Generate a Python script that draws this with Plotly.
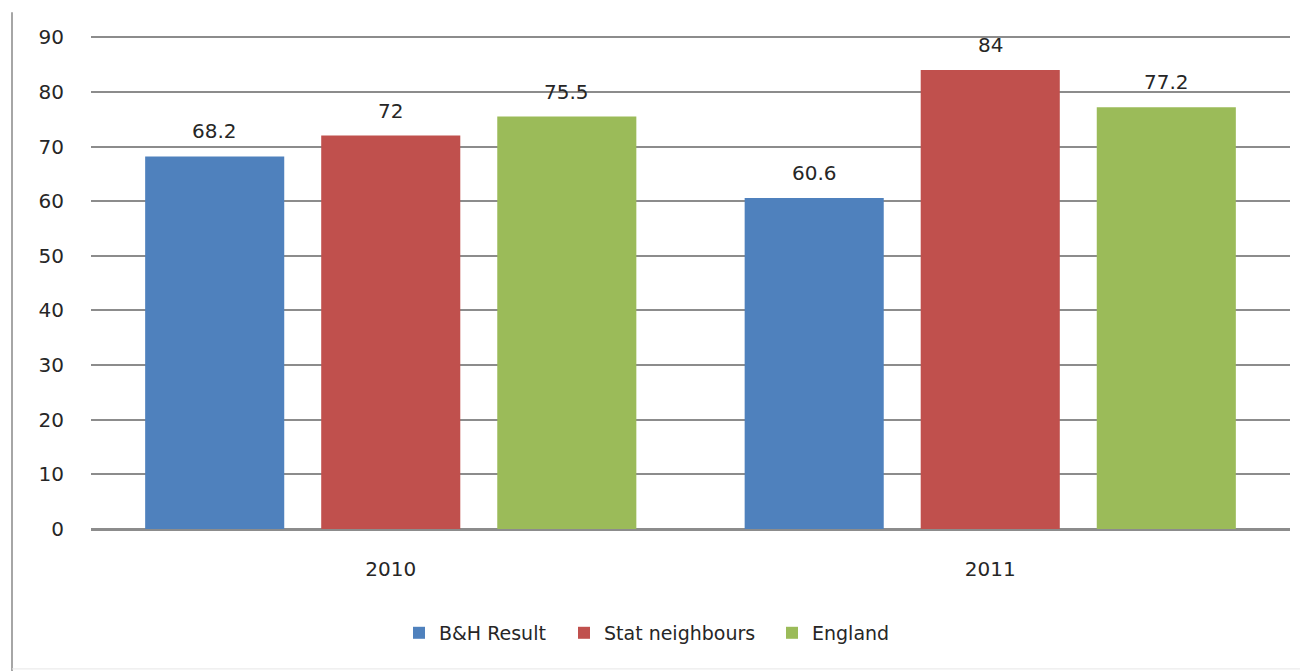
import plotly.graph_objects as go

categories = ["2010", "2011"]
series_names = ["B&H Result", "Stat neighbours", "England"]
bh_result = [68.2, 60.6]
stat_neighbours = [72, 84]
england = [75.5, 77.2]
y_ticks = [0, 10, 20, 30, 40, 50, 60, 70, 80, 90]

colors = ["#4F81BD", "#C0504D", "#9BBB59"]
font_family = "DejaVu Sans, sans-serif"
FS = 20

# page body adds an 8px margin; lay out in window pixels, then offset
OFF = 8
W, H = 1308 - OFF, 671 - OFF
plot_left, plot_right = 91 - OFF, 1290 - OFF
y0_px, y90_px = 529 - OFF, 37 - OFF
YMAX = 90.6
pw = plot_right - plot_left
ph90 = y0_px - y90_px
ph = ph90 * YMAX / 90
T = y0_px - ph
B = H - y0_px
L, R = plot_left, W - plot_right

BARGAP = 0.119
BARGROUPGAP = 0.21
cat_px = pw / len(categories)
slot_px = cat_px * (1 - BARGAP) / len(series_names)

all_vals = [bh_result, stat_neighbours, england]
legend_keys = ["legend", "legend2", "legend3"]
legend_sq_px = [413, 578, 786]

fig = go.Figure()
annotations = []
for i, (name, vals, col) in enumerate(zip(series_names, all_vals, colors)):
    fig.add_trace(go.Bar(
        x=categories, y=vals, name=name,
        marker=dict(color=col, line=dict(width=0)),
        legend=legend_keys[i],
    ))
    for j, v in enumerate(vals):
        annotations.append(dict(
            x=j, y=v, xref="x", yref="y", text=f"{v:g}", showarrow=False,
            xshift=(i - 1) * slot_px, yshift=25, yanchor="middle",
            font=dict(size=FS, color="#262626", family=font_family),
        ))

legend_layouts = {}
for key, sq in zip(legend_keys, legend_sq_px):
    legend_layouts[key] = dict(
        orientation="h", x=(sq - OFF - 14 - plot_left) / pw, xanchor="left",
        y=(y0_px - (633 - OFF)) / ph, yanchor="middle",
        font=dict(size=19, family=font_family, color="#262626"),
        itemwidth=30, bgcolor="rgba(0,0,0,0)",
    )

fig.update_layout(
    width=W, height=H,
    margin=dict(l=L, r=R, t=T, b=B, autoexpand=False),
    paper_bgcolor="white", plot_bgcolor="white",
    barmode="group", bargap=BARGAP, bargroupgap=BARGROUPGAP,
    font=dict(family=font_family, size=FS, color="#262626"),
    showlegend=True,
    annotations=annotations,
    xaxis=dict(type="category", range=[-0.5, len(categories) - 0.5],
               showgrid=False, showline=False, ticks="", zeroline=False,
               automargin=False, ticklabelstandoff=26, tickfont=dict(size=FS)),
    yaxis=dict(range=[0, YMAX], tickvals=y_ticks, showgrid=True,
               gridcolor="#8C8C8C", gridwidth=1.5, zeroline=True,
               zerolinecolor="#8C8C8C", zerolinewidth=2.5,
               showline=False, ticks="", ticklabelstandoff=26,
               automargin=False, tickfont=dict(size=FS)),
    shapes=[
        dict(type="line", xref="paper", yref="paper",
             x0=(12 - OFF - plot_left) / pw, x1=(12 - OFF - plot_left) / pw,
             y0=(y0_px - (12 - OFF)) / ph, y1=(y0_px - H) / ph,
             line=dict(color="#A6A6A6", width=2)),
        dict(type="line", xref="paper", yref="paper",
             x0=(12 - OFF - plot_left) / pw, x1=(W - plot_left) / pw,
             y0=(y0_px - (669 - OFF)) / ph, y1=(y0_px - (669 - OFF)) / ph,
             line=dict(color="#E6E6E6", width=1)),
    ],
    **legend_layouts,
)

fig.write_html("out.html")
